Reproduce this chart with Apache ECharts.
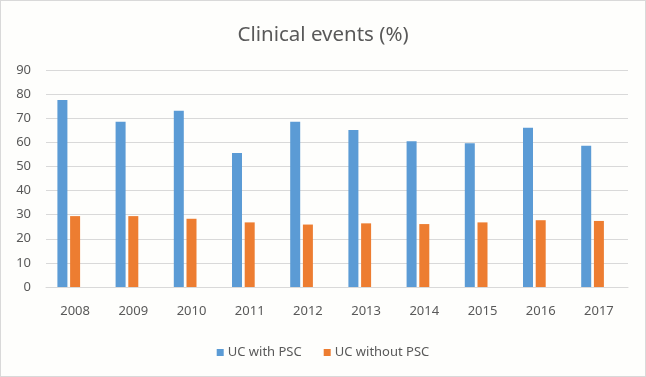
<!DOCTYPE html>
<html>
<head>
<meta charset="utf-8">
<script src="https://cdn.jsdelivr.net/npm/echarts@6/dist/echarts.min.js"></script>
<style>
  html, body { margin: 0; padding: 0; background: #fff; }
  #main {
    width: 646px;
    height: 377px;
    box-sizing: border-box;
    border: 1px solid #d9d9d9;
    background: #fefefc;
  }
</style>
</head>
<body>
<div id="main"></div>
<script>
const years = ['2008', '2009', '2010', '2011', '2012', '2013', '2014', '2015', '2016', '2017'];
const withPsc = [77.6, 68.5, 73.1, 55.6, 68.5, 65.1, 60.5, 59.6, 66.1, 58.6];
const withoutPsc = [29.4, 29.4, 28.3, 26.8, 25.9, 26.4, 26.1, 26.8, 27.7, 27.4];
const yTicks = { min: 0, max: 90, interval: 10 };

const textColor = '#595959';
const fontFamily = "'Noto Sans', 'Open Sans', sans-serif";

const chart = echarts.init(document.getElementById('main'));
chart.setOption({
  animation: false,
  textStyle: { fontFamily: fontFamily },
  title: {
    text: 'Clinical events (%)',
    left: 'center',
    top: 19,
    textStyle: { color: textColor, fontSize: 20.5, fontWeight: 'normal', fontFamily: fontFamily },
  },
  legend: {
    bottom: 12,
    left: 'center',
    icon: 'rect',
    itemWidth: 7,
    itemHeight: 7,
    itemGap: 22,
    data: ['UC with PSC', 'UC without PSC'],
    textStyle: { color: textColor, fontSize: 13, padding: [0, 0, 0, -1] },
  },
  grid: {
    left: 45,
    right: 17,
    top: 69,
    bottom: 89,
  },
  xAxis: {
    type: 'category',
    data: years,
    axisLine: { lineStyle: { color: '#d9d9d9' } },
    axisTick: { show: false },
    axisLabel: { color: textColor, fontSize: 13, margin: 18 },
  },
  yAxis: {
    type: 'value',
    min: yTicks.min,
    max: yTicks.max,
    interval: yTicks.interval,
    axisLine: { show: false },
    axisTick: { show: false },
    axisLabel: { color: textColor, fontSize: 13, margin: 15 },
    splitLine: { lineStyle: { color: '#d9d9d9' } },
  },
  series: [
    {
      name: 'UC with PSC',
      type: 'bar',
      barWidth: 10,
      barGap: '27%',
      itemStyle: { color: '#5b9bd5' },
      data: withPsc,
    },
    {
      name: 'UC without PSC',
      type: 'bar',
      barWidth: 10,
      itemStyle: { color: '#ed7d31' },
      data: withoutPsc,
    },
    // empty third slot: the original groups sit left of the category centre
    {
      name: 'empty',
      type: 'bar',
      barWidth: 10,
      data: [],
    },
  ],
});
</script>
</body>
</html>
